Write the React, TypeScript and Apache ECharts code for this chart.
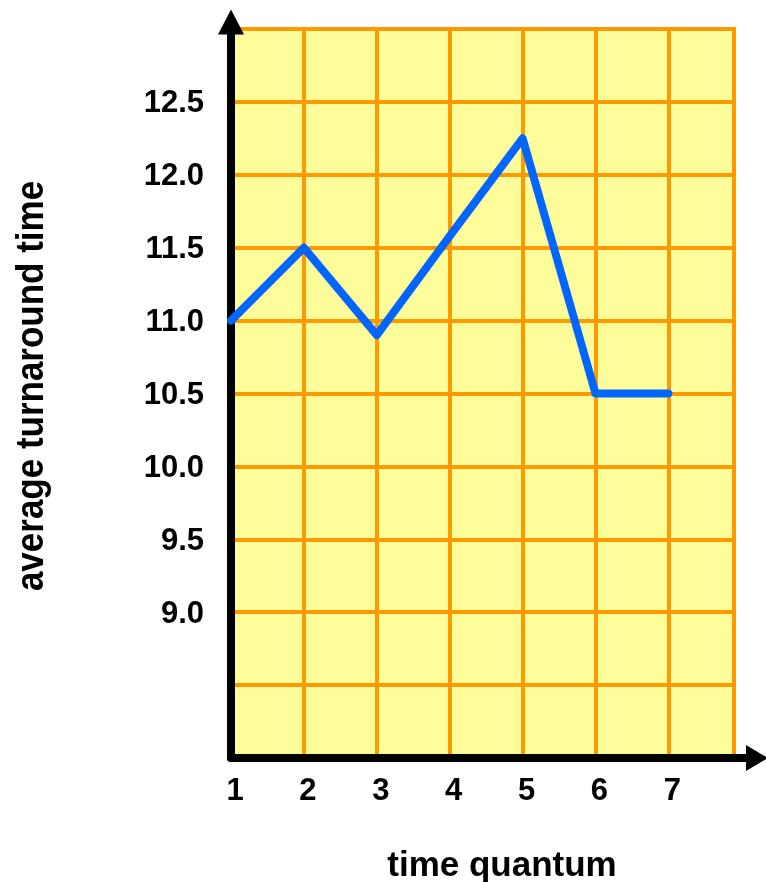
import React, { useEffect, useRef } from 'react';
import * as echarts from 'echarts';

const quanta = [1, 2, 3, 4, 5, 6, 7];
const turnaround = [11.0, 11.5, 10.9, 11.58, 12.25, 10.5, 10.5];
const xTickLabels = ['1', '2', '3', '4', '5', '6', '7'];
const yTickLabels = ['9.0', '9.5', '10.0', '10.5', '11.0', '11.5', '12.0', '12.5'];
const xTitle = 'time quantum';
const yTitle = 'average turnaround time';

export default function App() {
  const ref = useRef<HTMLDivElement>(null);
  useEffect(() => {
    const chart = echarts.init(ref.current!, null, { renderer: 'svg' });
    const font = '"Liberation Sans", Arial, Helvetica, sans-serif';
    chart.setOption({
      animation: false,
      grid: {
        left: 231, top: 29, right: 32, bottom: 124,
        show: true, backgroundColor: '#FFFC9A', borderColor: '#FF9900', borderWidth: 4,
      },
      xAxis: {
        type: 'value', min: 1, max: 7.9, interval: 1,
        axisLine: {
          show: true,
          lineStyle: { color: '#000', width: 8, cap: 'round' },
          symbol: ['none', 'path://M13,0L26,22L17,22L17,44L9,44L9,22L0,22Z'],
          symbolSize: [26, 44],
          symbolOffset: [0, 12],
        },
        axisTick: { show: false },
        splitLine: { show: true, lineStyle: { color: '#FF9900', width: 4 } },
        axisLabel: {
          margin: 16, color: '#000', fontSize: 31, fontWeight: 'bold', fontFamily: font,
          padding: [0, 0, 0, 8],
          formatter: (v: number) => { const s = String(v); return xTickLabels.includes(s) ? s : ''; },
        },
      },
      yAxis: {
        type: 'value', min: 8, max: 13, interval: 0.5,
        axisLine: {
          show: true,
          lineStyle: { color: '#000', width: 8, cap: 'round' },
          symbol: ['none', 'triangle'],
          symbolSize: [26, 25],
          symbolOffset: [0, 7],
        },
        axisTick: { show: false },
        splitLine: { show: true, lineStyle: { color: '#FF9900', width: 4 } },
        axisLabel: {
          margin: 27, color: '#000', fontSize: 31, fontWeight: 'bold', fontFamily: font,
          padding: [8, 0, 0, 0],
          formatter: (v: number) => { const s = v.toFixed(1); return yTickLabels.includes(s) ? s : ''; },
        },
      },
      series: [{
        type: 'line',
        data: quanta.map((q, i) => [q, turnaround[i]]),
        symbol: 'none',
        showSymbol: false,
        lineStyle: { color: '#0066FF', width: 8, cap: 'round', join: 'round' },
      }],
      graphic: [
        {
          type: 'text', x: 502, y: 863,
          style: { text: xTitle, font: `bold 35px ${font}`, fill: '#000', textAlign: 'center', textVerticalAlign: 'middle' },
        },
        {
          type: 'text', x: 29, y: 386, rotation: Math.PI / 2, scaleY: 1.12,
          style: { text: yTitle, font: `bold 35px ${font}`, fill: '#000', textAlign: 'center', textVerticalAlign: 'middle' },
        },
      ],
    });
    return () => chart.dispose();
  }, []);
  return <div ref={ref} style={{ position: 'fixed', left: 0, top: 0, width: 766, height: 882 }} />;
}
